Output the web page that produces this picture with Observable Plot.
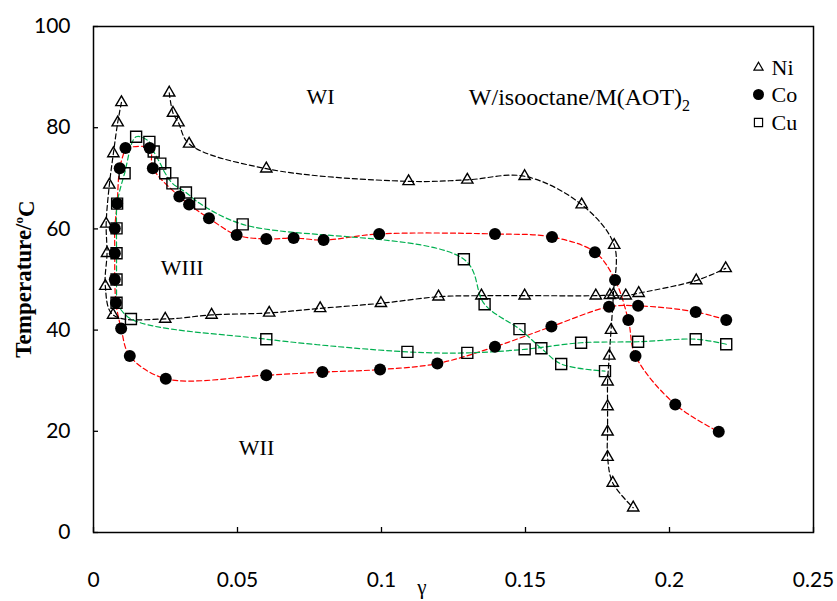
<!DOCTYPE html>
<html><head><meta charset="utf-8">
<script src="https://cdn.jsdelivr.net/npm/d3@7"></script>
<script src="https://cdn.jsdelivr.net/npm/@observablehq/plot@0.6"></script>
<style>body{margin:0;background:#fff}</style>
</head><body><div id="chart"></div>
<script>
// ---- data (γ, Temperature °C) ----
const xTicks = [0, 0.05, 0.1, 0.15, 0.2, 0.25];
const yTicks = [0, 20, 40, 60, 80, 100];
const xTickLabels = ["0", "0.05", "0.1", "0.15", "0.2", "0.25"];

// Ni: left branch + lower boundary
const niLeftLower = [[0.0097,85.0],[0.0084,81.0],[0.0069,74.9],[0.0055,68.7],[0.0044,61.0],[0.0047,55.2],[0.0041,48.7],[0.0068,43.0],[0.0249,42.2],[0.041,43.0],[0.061,43.4],[0.0787,44.3],[0.0998,45.3],[0.1198,46.6],[0.1347,46.8],[0.1497,46.8],[0.1744,46.8],[0.1793,46.9],[0.1848,46.8],[0.1893,47.3],[0.2093,49.8],[0.2195,52.2]];
// Ni: upper boundary + vertical drop
const niUpperRight = [[0.0263,86.9],[0.0276,82.9],[0.0295,81.0],[0.0332,76.8],[0.060,71.9],[0.1094,69.4],[0.1298,69.7],[0.1497,70.4],[0.1695,64.8],[0.1808,56.8],[0.1805,47.0],[0.1797,40.0],[0.1791,34.9],[0.1785,29.8],[0.1785,24.9],[0.1785,19.9],[0.1785,14.9],[0.1803,9.8],[0.1874,4.9]];

// Co: lower boundary (right to left) then up the left side
const coLower = [[0.2197,42.0],[0.2091,43.6],[0.1891,44.8],[0.179,44.6],[0.159,40.7],[0.1394,36.7],[0.1194,33.4],[0.0995,32.2],[0.0795,31.7],[0.060,31.1],[0.0251,30.4],[0.0126,34.9],[0.0096,40.3],[0.0078,45.4],[0.0074,50.0],[0.0074,55.2],[0.0074,60.1],[0.0082,65.0],[0.0091,72.0],[0.0111,76.0]];
// Co: upper boundary and descent
const coUpper = [[0.0111,76.0],[0.0195,76.0],[0.0206,72.0],[0.0298,66.4],[0.0332,64.8],[0.0401,62.1],[0.0497,58.8],[0.060,58.0],[0.0695,58.2],[0.0799,57.8],[0.0992,59.0],[0.1394,59.0],[0.1592,58.4],[0.1741,55.4],[0.1811,49.9],[0.1857,42.0],[0.1882,34.9],[0.202,25.3],[0.2171,19.9]];

// Cu: left side + upper boundary + descent
const cuUpper = [[0.0080,45.4],[0.0080,50.0],[0.0080,55.2],[0.0080,60.1],[0.0082,65.0],[0.0108,71.0],[0.0148,78.2],[0.0194,77.2],[0.0209,75.3],[0.0232,72.9],[0.0249,71.0],[0.0274,69.0],[0.0321,67.2],[0.037,65.0],[0.0518,60.9],[0.1286,54.0],[0.1358,45.1],[0.1479,40.2],[0.1555,36.4],[0.1624,33.3],[0.1776,31.9]];
// Cu: lower boundary
const cuLower = [[0.0080,45.4],[0.013,42.2],[0.060,38.2],[0.109,35.7],[0.1298,35.5],[0.1497,36.2],[0.1693,37.5],[0.1891,37.7],[0.2091,38.2],[0.2197,37.2]];

const seriesNames = ["Ni", "Co", "Cu"];
const regionLabels = [{t:"WI", x:0.0788, y:86.0},{t:"WIII", x:0.0308, y:52.2},{t:"WII", x:0.0566, y:16.8}];
const systemLabel = {t:"W/isooctane/M(AOT)", sub:"2", x:0.1305, y:86.0};

// ---- build tables ----
const toRows = (pts, branch) => pts.map(([x, y]) => ({x, y, branch}));
const uniq = rows => { const s = new Set(); return rows.filter(r => { const k = r.x + "," + r.y; if (s.has(k)) return false; s.add(k); return true; }); };
const niRows = [...toRows(niLeftLower, "a"), ...toRows(niUpperRight, "b")];
const coRows = [...toRows(coLower, "a"), ...toRows(coUpper, "b")];
const cuRows = [...toRows(cuUpper, "a"), ...toRows(cuLower, "b")];

const W = 837, H = 601, mL = 93, mR = 24, mT = 26, mB = 69;
const pw = W - mL - mR, ph = H - mT - mB;
const dash = "5,3";
const serif = "'Liberation Serif', 'Times New Roman', serif";
const legendDy = [41, 68, 96];

const plot = Plot.plot({
  width: W, height: H,
  marginLeft: mL, marginRight: mR, marginTop: mT, marginBottom: mB,
  x: {domain: [0, 0.25]},
  y: {domain: [0, 100]},
  style: {fontFamily: "Lato, sans-serif", fontSize: "21px", background: "#fff", color: "#000"},
  marks: [
    Plot.axisX({ticks: xTicks, tickSize: 0, tickPadding: 40, tickFormat: (d, i) => xTickLabels[i], label: null}),
    Plot.axisY({ticks: yTicks, tickSize: 0, tickPadding: 23, label: null}),
    Plot.tickX(xTicks, {x: d => d, insetTop: ph - 5, stroke: "#000", strokeWidth: 1.3}),
    Plot.tickY(yTicks, {y: d => d, insetRight: pw - 5, stroke: "#000", strokeWidth: 1.3}),
    Plot.line(niRows, {x: "x", y: "y", z: "branch", stroke: "#000", strokeWidth: 1.2, strokeDasharray: dash, curve: "catmull-rom"}),
    Plot.line(coRows, {x: "x", y: "y", z: "branch", stroke: "#ff0000", strokeWidth: 1.2, strokeDasharray: dash, curve: "catmull-rom"}),
    Plot.line(cuRows, {x: "x", y: "y", z: "branch", stroke: "#00b050", strokeWidth: 1.2, strokeDasharray: dash, curve: "catmull-rom"}),
    Plot.dot(uniq(coRows), {x: "x", y: "y", r: 6, fill: "#000", stroke: "none"}),
    Plot.dot(uniq(niRows), {x: "x", y: "y", symbol: "triangle", r: 4.2, fill: "none", stroke: "#000", strokeWidth: 1.4}),
    Plot.dot(uniq(cuRows), {x: "x", y: "y", symbol: "square", r: 6.2, fill: "none", stroke: "#000", strokeWidth: 1.4}),
    Plot.text(regionLabels, {x: "x", y: "y", text: "t", fontFamily: serif, fontSize: 22, fill: "#000"}),
    // legend
    Plot.dot([seriesNames[0]], {frameAnchor: "top-right", dx: -55, dy: legendDy[0], symbol: "triangle", r: 3.4, fill: "none", stroke: "#000", strokeWidth: 1.2}),
    Plot.dot([seriesNames[1]], {frameAnchor: "top-right", dx: -55, dy: legendDy[1], r: 5.5, fill: "#000"}),
    Plot.dot([seriesNames[2]], {frameAnchor: "top-right", dx: -55, dy: legendDy[2], symbol: "square", r: 4.6, fill: "none", stroke: "#000", strokeWidth: 1.2}),
    Plot.text([seriesNames[0]], {frameAnchor: "top-right", dx: -42, dy: legendDy[0], text: d => d, textAnchor: "start", lineAnchor: "middle", fontFamily: serif, fontSize: 22, fill: "#000"}),
    Plot.text([seriesNames[1]], {frameAnchor: "top-right", dx: -42, dy: legendDy[1], text: d => d, textAnchor: "start", lineAnchor: "middle", fontFamily: serif, fontSize: 22, fill: "#000"}),
    Plot.text([seriesNames[2]], {frameAnchor: "top-right", dx: -42, dy: legendDy[2], text: d => d, textAnchor: "start", lineAnchor: "middle", fontFamily: serif, fontSize: 22, fill: "#000"}),
    Plot.frame({stroke: "#000", strokeWidth: 1.5})
  ]
});
document.getElementById("chart").appendChild(plot);

const svg = d3.select(plot);
const xs = d3.scaleLinear().domain([0, 0.25]).range([mL, W - mR]);
const ys = d3.scaleLinear().domain([0, 100]).range([H - mB, mT]);

// system label with subscript
const sys = svg.append("text").attr("x", xs(systemLabel.x)).attr("y", ys(systemLabel.y)).attr("dy", "0.35em")
  .attr("text-anchor", "start").attr("font-family", serif).attr("font-size", 24).attr("fill", "#000");
sys.append("tspan").text(systemLabel.t);
sys.append("tspan").attr("font-size", 16).attr("dy", "0.35em").text(systemLabel.sub);

// axis titles
const yt = svg.append("text").attr("transform", `translate(23,${(mT + H - mB) / 2}) rotate(-90)`)
  .attr("text-anchor", "middle").attr("dy", "0.35em").attr("font-family", serif).attr("font-weight", "bold").attr("font-size", 23).attr("fill", "#000");
yt.append("tspan").text("Temperature/");
yt.append("tspan").attr("font-size", 13).attr("dy", "-0.6em").text("o");
yt.append("tspan").attr("dy", "0.45em").text("C");
svg.append("text").attr("x", 422).attr("y", 594).attr("text-anchor", "middle")
  .attr("font-family", serif).attr("font-size", 21).attr("fill", "#000").text("γ");
</script></body></html>
